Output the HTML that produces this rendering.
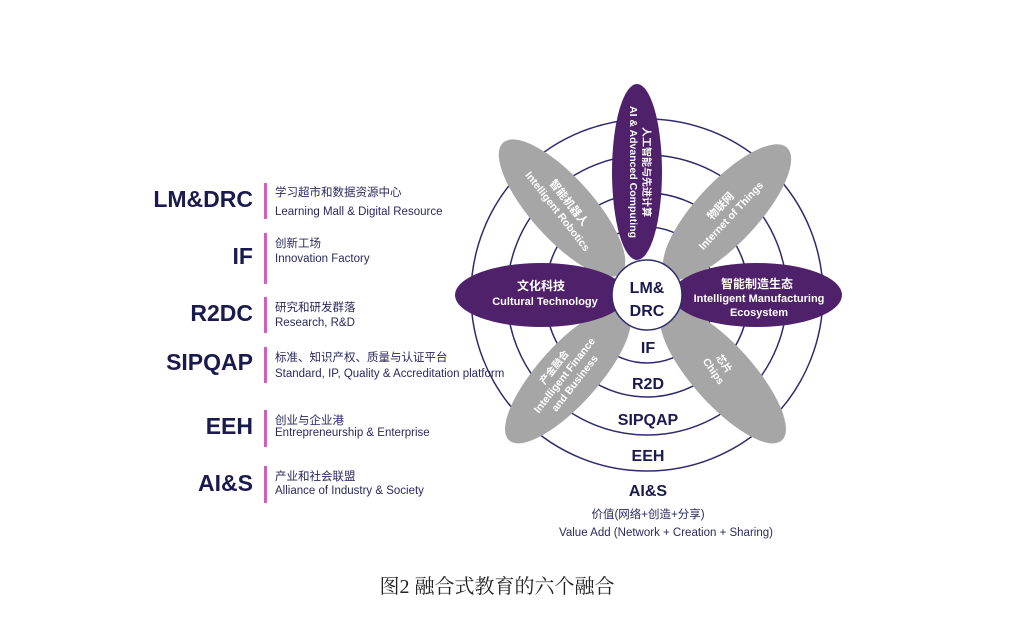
<!DOCTYPE html>
<html><head><meta charset="utf-8"><style>
html,body{margin:0;padding:0;background:#fff;width:1024px;height:624px;overflow:hidden}
svg{display:block}
.big{font-family:"Liberation Sans","Noto Sans CJK SC",sans-serif;font-weight:bold;fill:#1a1a4e}
.cn{font-family:"Liberation Sans","Noto Sans CJK SC",sans-serif;fill:#2a2a5e;font-size:11.5px}
.en{font-family:"Liberation Sans",sans-serif;fill:#2a2a5e;font-size:11.5px}
.w{font-family:"Liberation Sans","Noto Sans CJK SC",sans-serif;fill:#fff;font-weight:bold}
</style></head><body>
<svg width="1024" height="624" viewBox="0 0 1024 624" xmlns="http://www.w3.org/2000/svg">
<g fill="none" stroke="#2c2c6a" stroke-width="1.5">
<circle cx="647" cy="295" r="176"/>
<circle cx="647" cy="295" r="140"/>
<circle cx="647" cy="295" r="102"/>
<circle cx="647" cy="295" r="68"/>
</g>
<g fill="#a6a6a6">
<ellipse cx="562" cy="208" rx="88" ry="31" transform="rotate(48 562 208)"/>
<ellipse cx="727" cy="212" rx="88" ry="31" transform="rotate(-47 727 212)"/>
<ellipse cx="568" cy="375" rx="88" ry="30" transform="rotate(-48 568 375)"/>
<ellipse cx="723" cy="375" rx="88" ry="30" transform="rotate(48 723 375)"/>
</g>
<g fill="#4f216b">
<ellipse cx="637" cy="172" rx="25" ry="88"/>
<ellipse cx="541" cy="295" rx="86" ry="32"/>
<ellipse cx="757" cy="295" rx="85" ry="32"/>
</g>
<circle cx="647" cy="295" r="35" fill="#fff" stroke="#2c2c6a" stroke-width="1.5"/>
<g class="w" font-size="10.5" text-anchor="middle">
<text transform="translate(637,172) rotate(90)" y="7">AI &amp; Advanced Computing</text>
<text transform="translate(637,172) rotate(90)" y="-6" font-size="10">人工智能与先进计算</text>
<text x="541" y="290" font-size="12">文化科技</text>
<text x="545" y="305" font-size="11">Cultural Technology</text>
<text x="757" y="288" font-size="12">智能制造生态</text>
<text x="759" y="302" font-size="11">Intelligent Manufacturing</text>
<text x="759" y="316" font-size="11">Ecosystem</text>
<text transform="translate(562,208) rotate(52)" y="-5" font-size="11">智能机器人</text>
<text transform="translate(562,208) rotate(52)" y="9">Intelligent Robotics</text>
<text transform="translate(727,212) rotate(-47)" y="-5" font-size="11">物联网</text>
<text transform="translate(727,212) rotate(-47)" y="9">Internet of Things</text>
<text transform="translate(568,378) rotate(-52)" y="-14" font-size="10">产金融合</text>
<text transform="translate(568,378) rotate(-52)" y="-1">Intelligent Finance</text>
<text transform="translate(568,378) rotate(-52)" y="12">and Business</text>
<text transform="translate(718,368) rotate(55)" y="-4" font-size="10">芯片</text>
<text transform="translate(718,368) rotate(55)" y="9">Chips</text>
</g>
<g class="big" text-anchor="middle" font-size="16">
<text x="647" y="293">LM&amp;</text>
<text x="647" y="316">DRC</text>
<text x="648" y="353">IF</text>
<text x="648" y="389">R2D</text>
<text x="648" y="425">SIPQAP</text>
<text x="648" y="461">EEH</text>
<text x="648" y="496">AI&amp;S</text>
</g>
<text class="cn" x="648" y="518" text-anchor="middle" font-size="13">价值(网络+创造+分享)</text>
<text class="en" x="666" y="536" text-anchor="middle">Value Add (Network + Creation + Sharing)</text>
<g class="big" text-anchor="end" font-size="23">
<text x="253" y="207">LM&amp;DRC</text>
<text x="253" y="264">IF</text>
<text x="253" y="321">R2DC</text>
<text x="253" y="370">SIPQAP</text>
<text x="253" y="434">EEH</text>
<text x="253" y="491">AI&amp;S</text>
</g>
<g fill="#d060c0">
<rect x="264" y="183" width="3" height="36"/>
<rect x="264" y="233" width="3" height="51"/>
<rect x="264" y="297" width="3" height="36"/>
<rect x="264" y="347" width="3" height="36"/>
<rect x="264" y="410" width="3" height="37"/>
<rect x="264" y="466" width="3" height="37"/>
</g>
<text class="cn" x="275" y="196">学习超市和数据资源中心</text>
<text class="en" x="275" y="215">Learning Mall &amp; Digital Resource</text>
<text class="cn" x="275" y="247">创新工场</text>
<text class="en" x="275" y="262">Innovation Factory</text>
<text class="cn" x="275" y="311">研究和研发群落</text>
<text class="en" x="275" y="326">Research, R&amp;D</text>
<text class="cn" x="275" y="361">标准、知识产权、质量与认证平台</text>
<text class="en" x="275" y="377">Standard, IP, Quality &amp; Accreditation platform</text>
<text class="cn" x="275" y="424">创业与企业港</text>
<text class="en" x="275" y="436">Entrepreneurship &amp; Enterprise</text>
<text class="cn" x="275" y="480">产业和社会联盟</text>
<text class="en" x="275" y="494">Alliance of Industry &amp; Society</text>
<text x="497" y="593" text-anchor="middle" font-family="'Liberation Serif','Noto Serif CJK SC',serif" font-size="20" fill="#222">图2 融合式教育的六个融合</text>
</svg>
</body></html>
